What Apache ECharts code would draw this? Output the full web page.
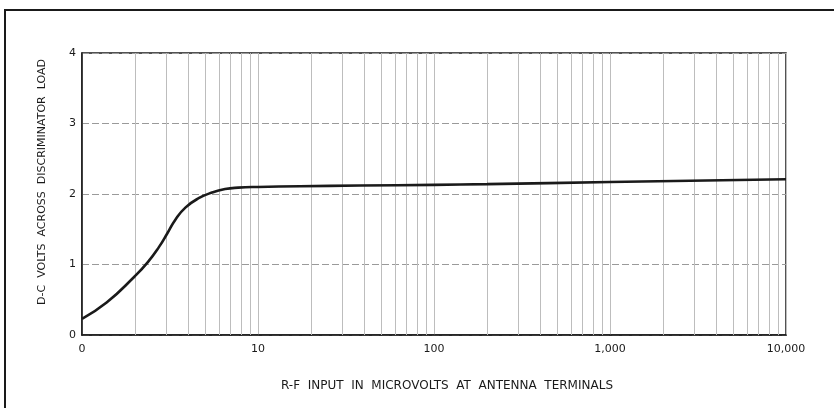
<!DOCTYPE html>
<html>
<head>
<meta charset="utf-8">
<script src="https://cdn.jsdelivr.net/npm/echarts@6/dist/echarts.min.js"></script>
<style>
  html, body { margin: 0; padding: 0; background: #fff; }
  #chart { width: 834px; height: 408px; }
</style>
</head>
<body>
<div id="chart"></div>
<script>
// R-F input (microvolts) and the resulting d-c volts across the discriminator load
const inputMicrovolts = [1, 1.38, 1.99, 2.36, 2.74, 3.05, 3.40, 3.88, 4.60, 5.47, 6.50, 7.72, 10, 17.3, 38, 100, 200, 1000, 10000];
const dcVolts        = [0.23, 0.46, 0.83, 1.03, 1.25, 1.44, 1.64, 1.81, 1.94, 2.02, 2.07, 2.09, 2.10, 2.11, 2.12, 2.13, 2.14, 2.17, 2.21];

// Decade tick labels along the log axis
const xTickValues = [1, 10, 100, 1000, 10000];
const xTickLabels = ['0', '10', '100', '1,000', '10,000'];
const yTickValues = [0, 1, 2, 3, 4];

// Intermediate log-paper rulings (2..9 in every decade)
const minorRulings = [
  2, 3, 4, 5, 6, 7, 8, 9,
  20, 30, 40, 50, 60, 70, 80, 90,
  200, 300, 400, 500, 600, 700, 800, 900,
  2000, 3000, 4000, 5000, 6000, 7000, 8000, 9000
];

const yTitle = 'D-C  VOLTS  ACROSS  DISCRIMINATOR  LOAD';
const xTitle = 'R-F  INPUT  IN  MICROVOLTS  AT  ANTENNA  TERMINALS';

const FONT = '"DejaVu Sans", "Liberation Sans", sans-serif';
const INK = '#1a1a1a';
const RULE = '#bdbdbd';

const chart = echarts.init(document.getElementById('chart'), null, { renderer: 'canvas' });

chart.setOption({
  animation: false,
  backgroundColor: '#ffffff',
  grid: {
    left: 82, right: 48, top: 53, bottom: 73,
    show: true,
    borderColor: INK,
    borderWidth: 1.5,
    backgroundColor: 'transparent'
  },
  xAxis: {
    type: 'log',
    logBase: 10,
    min: 1,
    max: 10000,
    axisLine: { show: true, lineStyle: { color: INK, width: 1.5 } },
    axisTick: { show: false },
    axisLabel: {
      color: INK,
      fontFamily: FONT,
      fontSize: 11,
      margin: 9,
      formatter: function (v) {
        const i = xTickValues.findIndex(t => Math.abs(t - v) < 1e-6 * t);
        return i >= 0 ? xTickLabels[i] : '';
      }
    },
    splitLine: { show: true, lineStyle: { color: RULE, width: 1 } },
    minorTick: { show: false },
    minorSplitLine: { show: false }
  },
  yAxis: {
    type: 'value',
    min: 0,
    max: 4,
    interval: 1,
    axisLine: { show: true, lineStyle: { color: INK, width: 1.5 } },
    axisTick: { show: false },
    axisLabel: {
      color: INK,
      fontFamily: FONT,
      fontSize: 11,
      margin: 6,
      formatter: function (v) { return yTickValues.includes(v) ? String(v) : ''; }
    },
    splitLine: { show: true, lineStyle: { color: '#9a9a9a', width: 1, type: [7, 3] } }
  },
  graphic: [
    // outer frame of the figure
    { type: 'line', shape: { x1: 5, y1: 10, x2: 5, y2: 408 }, style: { stroke: INK, lineWidth: 2 } },
    { type: 'line', shape: { x1: 4, y1: 10, x2: 834, y2: 10 }, style: { stroke: INK, lineWidth: 2 } },
    {
      type: 'text',
      x: 42, y: 182,
      rotation: Math.PI / 2,
      style: {
        text: yTitle,
        fill: INK,
        font: '11px ' + FONT,
        textAlign: 'center',
        textVerticalAlign: 'middle'
      }
    },
    {
      type: 'text',
      x: 447, y: 386,
      style: {
        text: xTitle,
        fill: INK,
        font: '12px ' + FONT,
        textAlign: 'center',
        textVerticalAlign: 'middle'
      }
    }
  ],
  series: [
    {
      type: 'line',
      data: inputMicrovolts.map((x, i) => [x, dcVolts[i]]),
      smooth: 0.5,
      symbol: 'none',
      lineStyle: { color: INK, width: 2.6 },
      z: 5,
      markLine: {
        silent: true,
        symbol: ['none', 'none'],
        label: { show: false },
        lineStyle: { color: RULE, width: 1, type: 'solid' },
        data: minorRulings.map(v => ({ xAxis: v }))
      }
    }
  ]
});
</script>
</body>
</html>
